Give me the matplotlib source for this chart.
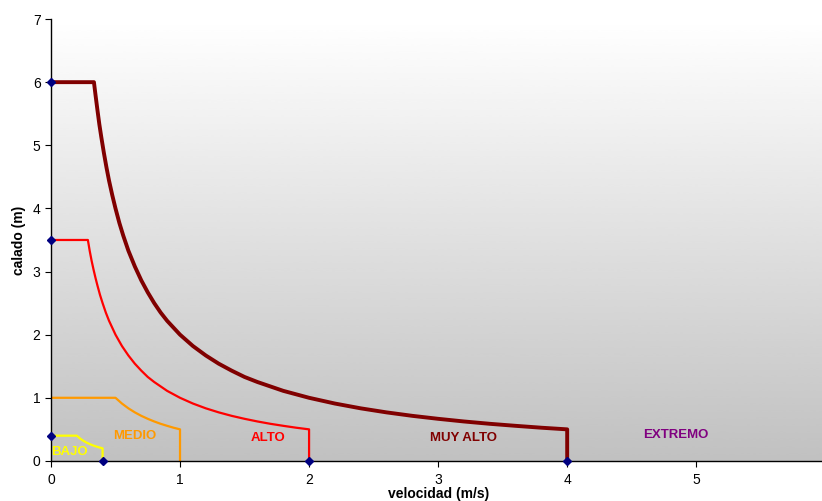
import numpy as np
import matplotlib
matplotlib.use("Agg")
import matplotlib.pyplot as plt

plt.rcParams['font.family'] = ['Liberation Sans', 'DejaVu Sans']

# hazard zone boundaries (velocity m/s, depth m)
bajo_v = [0.0, 0.2, 0.225, 0.25, 0.275, 0.3, 0.325, 0.35, 0.375, 0.4, 0.4]
bajo_h = [0.4, 0.4, 0.356, 0.32, 0.291, 0.267, 0.246, 0.229, 0.213, 0.2, 0.0]

medio_v = [0.0, 0.5, 0.55, 0.6, 0.65, 0.7, 0.75, 0.8, 0.85, 0.9, 0.95, 1.0, 1.0]
medio_h = [1.0, 1.0, 0.909, 0.833, 0.769, 0.714, 0.667, 0.625, 0.588, 0.556,
           0.526, 0.5, 0.0]

alto_v = [0.0, 0.286, 0.3, 0.315, 0.33, 0.345, 0.36, 0.38, 0.4, 0.425, 0.45,
          0.475, 0.5, 0.55, 0.6, 0.65, 0.7, 0.75, 0.8, 0.9, 1.0, 1.1, 1.2,
          1.3, 1.4, 1.5, 1.6, 1.7, 1.8, 1.9, 2.0, 2.0]
alto_h = [3.5, 3.5, 3.33, 3.17, 3.03, 2.9, 2.78, 2.63, 2.5, 2.35, 2.22,
          2.11, 2.0, 1.82, 1.67, 1.54, 1.43, 1.33, 1.25, 1.11, 1.0, 0.909,
          0.833, 0.769, 0.714, 0.667, 0.625, 0.588, 0.556, 0.526, 0.5, 0.0]

muy_v = [0.0, 0.333, 0.345, 0.36, 0.375, 0.39, 0.41, 0.43, 0.45, 0.475, 0.5,
         0.53, 0.56, 0.6, 0.65, 0.7, 0.75, 0.8, 0.85, 0.9, 1.0, 1.1, 1.2, 1.3,
         1.4, 1.5, 1.6, 1.8, 2.0, 2.2, 2.4, 2.6, 2.8, 3.0, 3.2, 3.4, 3.6,
         3.8, 4.0, 4.0]
muy_h = [6.0, 6.0, 5.8, 5.56, 5.33, 5.13, 4.88, 4.65, 4.44, 4.21, 4.0,
         3.77, 3.57, 3.33, 3.08, 2.86, 2.67, 2.5, 2.35, 2.22, 2.0, 1.82,
         1.67, 1.54, 1.43, 1.33, 1.25, 1.11, 1.0, 0.909, 0.833, 0.769,
         0.714, 0.667, 0.625, 0.588, 0.556, 0.526, 0.5, 0.0]

marker_v = [0.0, 0.0, 0.0, 0.4, 2.0, 4.0]
marker_h = [6.0, 3.5, 0.4, 0.0, 0.0, 0.0]

zone_names = ['BAJO', 'MEDIO', 'ALTO', 'MUY ALTO', 'EXTREMO']
zone_v = [0.14, 0.65, 1.68, 3.2, 4.84]
zone_h = [0.14, 0.39, 0.36, 0.36, 0.41]
zone_colors = ['#ffff00', '#ff9900', '#ff0000', '#800000', '#800080']

fig = plt.figure(figsize=(8.22, 5.01), dpi=100)
ax = fig.add_axes([0.062, 0.080, 0.942, 0.882])

# gradient background, white on top to gray at bottom
grad = np.linspace(1, 0, 256).reshape(-1, 1)
ax.imshow(grad, extent=[0, 6, 0, 7], aspect='auto', cmap='gray',
          vmin=-3.1, vmax=1.0, zorder=0, interpolation='bicubic')

ax.plot(bajo_v, bajo_h, color='#ffff00', lw=1.6, zorder=2)
ax.plot(medio_v, medio_h, color='#ff9900', lw=1.6, zorder=2)
ax.plot(alto_v, alto_h, color='#ff0000', lw=1.6, zorder=2)
ax.plot(muy_v, muy_h, color='#800000', lw=2.8, zorder=3)
ax.plot(marker_v, marker_h, linestyle='none', marker='D', markersize=4,
        color='#000080', zorder=5, clip_on=False)

for name, v, h, c in zip(zone_names, zone_v, zone_h, zone_colors):
    ax.text(v, h, name, color=c, fontsize=9.5, fontweight='bold',
            ha='center', va='center', zorder=4)

ax.set_xlim(0, 6)
ax.set_ylim(0, 7)
ax.set_xticks(range(0, 7))
ax.set_yticks(range(0, 8))
ax.tick_params(labelsize=10, length=4, direction='out', colors='black')
ax.tick_params(axis='x', pad=5)
for s in ['top', 'right']:
    ax.spines[s].set_visible(False)
ax.spines['left'].set_linewidth(1)
ax.spines['bottom'].set_linewidth(1)

ax.set_xlabel('velocidad (m/s)', fontsize=10, fontweight='bold', labelpad=0)
ax.set_ylabel('calado (m)', fontsize=10, fontweight='bold', labelpad=5)

fig.savefig('out.png', dpi=100)
